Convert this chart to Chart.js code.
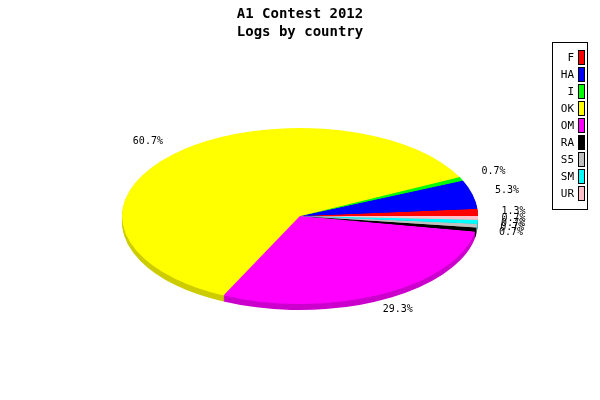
<!DOCTYPE html>
<html><head><meta charset="utf-8">
<script src="https://cdn.jsdelivr.net/npm/chart.js@4.4.0/dist/chart.umd.min.js"></script>
<style>html,body{margin:0;padding:0;background:#fff}canvas{display:block}</style>
</head><body>
<canvas id="c" width="600" height="400"></canvas>
<script>
const categories = ['F','HA','I','OK','OM','RA','S5','SM','UR'];
const values = [1.3, 5.3, 0.7, 60.7, 29.3, 0.7, 0.7, 0.7, 0.7];
const colors = ['#ff0000','#0000ff','#00ff00','#ffff00','#ff00ff','#000000','#c0c0c0','#00ffff','#ffc0cb'];
const titleLines = ['A1 Contest 2012','Logs by country'];

const CX = 300, CY = 216, RX = 178, RY = 88, DEPTH = 6;
const K = RY / RX;
const MONO = '"DejaVu Sans Mono", "Liberation Mono", monospace';

function darker(hex){
  const n = parseInt(hex.slice(1),16);
  const r = Math.round(((n>>16)&255)*0.8), g = Math.round(((n>>8)&255)*0.8), b = Math.round((n&255)*0.8);
  return 'rgb('+r+','+g+','+b+')';
}

function tilt(ctx, a0, dy){
  ctx.translate(CX, CY + dy);
  ctx.scale(1, -K);
  ctx.translate(-a0.x, -a0.y);
}

const tiltPlugin = {
  id: 'tilt',
  beforeDatasetsDraw(chart){
    const ctx = chart.ctx;
    const meta = chart.getDatasetMeta(0);
    const a0 = meta.data[0];
    ctx.save();
    for (let d = DEPTH; d >= 1; d--) {
      ctx.save();
      tilt(ctx, a0, d);
      meta.data.forEach((arc, i) => {
        ctx.beginPath();
        ctx.moveTo(arc.x, arc.y);
        ctx.arc(arc.x, arc.y, arc.outerRadius, arc.startAngle, arc.endAngle);
        ctx.closePath();
        ctx.fillStyle = darker(colors[i]);
        ctx.fill();
      });
      ctx.restore();
    }
    tilt(ctx, a0, 0);
  },
  afterDatasetsDraw(chart){
    const ctx = chart.ctx;
    ctx.restore();
    const meta = chart.getDatasetMeta(0);
    ctx.save();
    ctx.font = '10px ' + MONO;
    ctx.fillStyle = '#000';
    ctx.textAlign = 'center';
    ctx.textBaseline = 'middle';
    meta.data.forEach((arc, i) => {
      const m = (arc.startAngle + arc.endAngle) / 2;
      const x = CX + 1.2 * RX * Math.cos(m);
      const y = CY - 1.2 * RY * Math.sin(m);
      ctx.fillText(values[i].toFixed(1) + '%', x, y);
    });
    ctx.restore();
  },
  afterDraw(chart){
    const ctx = chart.ctx;
    ctx.save();
    ctx.fillStyle = '#fff';
    ctx.fillRect(552.5, 42.5, 35, 167);
    ctx.strokeStyle = '#000';
    ctx.lineWidth = 1;
    ctx.strokeRect(552.5, 42.5, 35, 167);
    ctx.font = '11px ' + MONO;
    ctx.textAlign = 'right';
    ctx.textBaseline = 'middle';
    categories.forEach((c, i) => {
      const y = 50 + i * 17;
      ctx.fillStyle = colors[i];
      ctx.fillRect(578.5, y + 0.5, 6, 14);
      ctx.strokeRect(578.5, y + 0.5, 6, 14);
      ctx.fillStyle = '#000';
      ctx.fillText(c, 574, y + 8);
    });
    ctx.restore();
  }
};

new Chart(document.getElementById('c'), {
  type: 'pie',
  data: {
    labels: categories,
    datasets: [{
      data: values,
      backgroundColor: colors,
      borderWidth: 0,
      clip: false,
      radius: RX
    }]
  },
  options: {
    responsive: false,
    devicePixelRatio: 1,
    animation: false,
    rotation: 90,
    events: [],
    layout: { padding: 0 },
    plugins: {
      legend: { display: false },
      tooltip: { enabled: false },
      title: {
        display: true,
        text: titleLines,
        color: '#000',
        font: { family: MONO, size: 14, weight: 'bold', lineHeight: 1.29 },
        padding: { top: 5, bottom: 10 }
      }
    }
  },
  plugins: [tiltPlugin]
});
</script>
</body></html>
